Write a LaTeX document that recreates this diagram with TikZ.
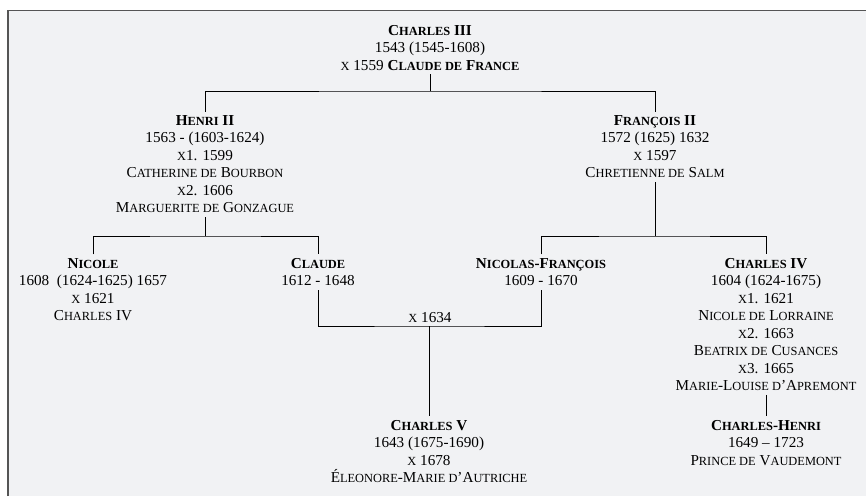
\documentclass[tikz,border=0pt]{standalone}
\usepackage{fontspec}
\setmainfont{Liberation Serif}
\newcommand\smc[1]{{\fontsize{12.4pt}{12.4pt}\selectfont #1}}
\definecolor{bgc}{RGB}{241,242,244}
\definecolor{framec}{RGB}{85,85,85}
\tikzset{
  person/.style={align=center, anchor=north, inner xsep=0pt, inner ysep=0pt, outer sep=0pt, outer ysep=4pt,
    font=\fontsize{15.2pt}{17.5pt}\selectfont},
  link/.style={draw=black, line width=0.9pt},
  note/.style={anchor=base, inner sep=0pt, font=\fontsize{15.2pt}{17.5pt}\selectfont}
}
\begin{document}
\begin{tikzpicture}[x=1pt,y=-1pt]
\useasboundingbox (0,0) rectangle (866,496);
\fill[white] (0,0) rectangle (866,496);
\fill[bgc] (8,10.5) rectangle (866,496);
\draw[framec, line width=1.8pt] (8,496) -- (8,10.5) -- (866,10.5);

\node[person] (c3) at (430,21) {\textbf{C\smc{HARLES} III}\\1543 (1545-1608)\\\smc{X} 1559 \textbf{C\smc{LAUDE DE} F\smc{RANCE}}};
\node[person] (h2) at (205,111.5) {\textbf{H\smc{ENRI} II}\\1563 - (1603-1624)\\\smc{X}1. 1599\\C\smc{ATHERINE DE} B\smc{OURBON}\\\smc{X}2. 1606\\M\smc{ARGUERITE DE} G\smc{ONZAGUE}};
\node[person] (f2) at (655,111.5) {\textbf{F\smc{RANÇOIS} II}\\1572 (1625) 1632\\\smc{X} 1597\\C\smc{HRETIENNE DE} S\smc{ALM}};
\node[person] (nicole) at (93,254.3) {\textbf{N\smc{ICOLE}}\\1608~~(1624-1625) 1657\\\smc{X} 1621\\C\smc{HARLES} IV};
\node[person] (claude) at (318,254.3) {\textbf{C\smc{LAUDE}}\\1612 - 1648};
\node[person] (nf) at (541,254.3) {\textbf{N\smc{ICOLAS}-F\smc{RANÇOIS}}\\1609 - 1670};
\node[person] (c4) at (766,254.3) {\textbf{C\smc{HARLES} IV}\\1604 (1624-1675)\\\smc{X}1. 1621\\N\smc{ICOLE DE} L\smc{ORRAINE}\\\smc{X}2. 1663\\B\smc{EATRIX DE} C\smc{USANCES}\\\smc{X}3. 1665\\M\smc{ARIE}-L\smc{OUISE D}’A\smc{PREMONT}};
\node[person] (ch) at (766,416) {\textbf{C\smc{HARLES}-H\smc{ENRI}}\\1649 – 1723\\P\smc{RINCE DE} V\smc{AUDEMONT}};
\node[person] (c5) at (429,416) {\textbf{C\smc{HARLES} V}\\1643 (1675-1690)\\\smc{X} 1678\\É\smc{LEONORE}-M\smc{ARIE D}’A\smc{UTRICHE}};

\coordinate (j1) at (430,91);
\coordinate (j2) at (205,236);
\coordinate (j3) at (655,236);
\coordinate (j4) at (429,326);

\node[note] (m1634) at (430,322) {\smc{X} 1634};

\draw[link] (c3.south) -- (j1);
\draw[link] (h2.north) |- (j1) -| (f2.north);
\draw[link] (h2.south) -- (j2);
\draw[link] (nicole.north) |- (j2) -| (claude.north);
\draw[link] (f2.south) -- (j3);
\draw[link] (nf.north) |- (j3) -| (c4.north);
\draw[link] (claude.south) |- (j4) -| (nf.south);
\draw[link] (j4) -- (c5.north);
\draw[link] (c4.south) -- (ch.north);
\end{tikzpicture}
\end{document}
